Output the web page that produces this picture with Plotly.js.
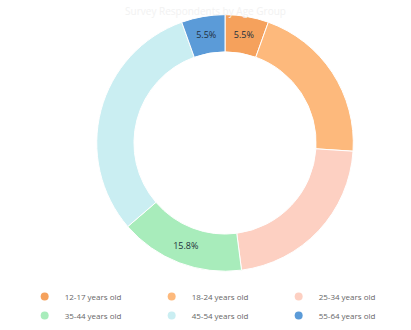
<!DOCTYPE html>
<html>
<head>
<meta charset="utf-8">
<script src="https://cdn.plot.ly/plotly-3.0.1.min.js"></script>
<style>html,body{margin:0;padding:0;background:#fff;}#chart{width:411px;height:330px;}</style>
</head>
<body>
<div id="chart"></div>
<script>
const categories = ["12-17 years old", "18-24 years old", "25-34 years old", "35-44 years old", "45-54 years old", "55-64 years old"];
const counts = [8, 30, 32, 23, 45, 8];
const sliceLabels = ["5.5%", "", "", "15.8%", "", "5.5%"];
const colors = ["#f5a15c", "#fdb97c", "#fdd0c2", "#a8ecbb", "#caeef2", "#5b9bd8"];
const titleText = "Survey Respondents by Age Group";

const data = [{
  type: "pie",
  labels: categories,
  values: counts,
  text: sliceLabels,
  texttemplate: "%{text}",
  textinfo: "text",
  textposition: "inside",
  insidetextorientation: "horizontal",
  textfont: {family: "Open Sans, Arial, sans-serif", size: 9, color: "#22303c"},
  hole: 0.71,
  sort: false,
  direction: "clockwise",
  rotation: 0,
  marker: {colors: colors, line: {color: "#ffffff", width: 1}},
  domain: {x: [0.207, 0.888], y: [0.168, 0.955]},
  hoverinfo: "label+percent",
  showlegend: false
}];

// legend entries with round markers, one per category
categories.forEach((c, i) => {
  data.push({
    type: "scatter",
    mode: "markers",
    x: [null], y: [null],
    name: c,
    marker: {symbol: "circle", size: 8, color: colors[i]},
    showlegend: true,
    hoverinfo: "skip"
  });
});

const layout = {
  width: 411,
  height: 330,
  margin: {l: 0, r: 0, t: 0, b: 0},
  paper_bgcolor: "#ffffff",
  plot_bgcolor: "rgba(0,0,0,0)",
  xaxis: {visible: false, domain: [0, 0.01]},
  yaxis: {visible: false, domain: [0, 0.01]},
  title: {text: titleText, font: {family: "Open Sans, Arial, sans-serif", size: 10, color: "#f2f2f2"}, x: 0.5, xanchor: "center", y: 0.975, yanchor: "top"},
  showlegend: true,
  legend: {
    orientation: "h",
    x: 0.06, xanchor: "left",
    y: 0.135, yanchor: "top",
    entrywidth: 82,
    itemwidth: 30,
    tracegroupgap: 0,
    font: {family: "Open Sans, Arial, sans-serif", size: 8, color: "#666666"},
    traceorder: "normal",
    bgcolor: "rgba(0,0,0,0)"
  }
};

Plotly.newPlot("chart", data, layout, {displayModeBar: false, staticPlot: true});
</script>
</body>
</html>
